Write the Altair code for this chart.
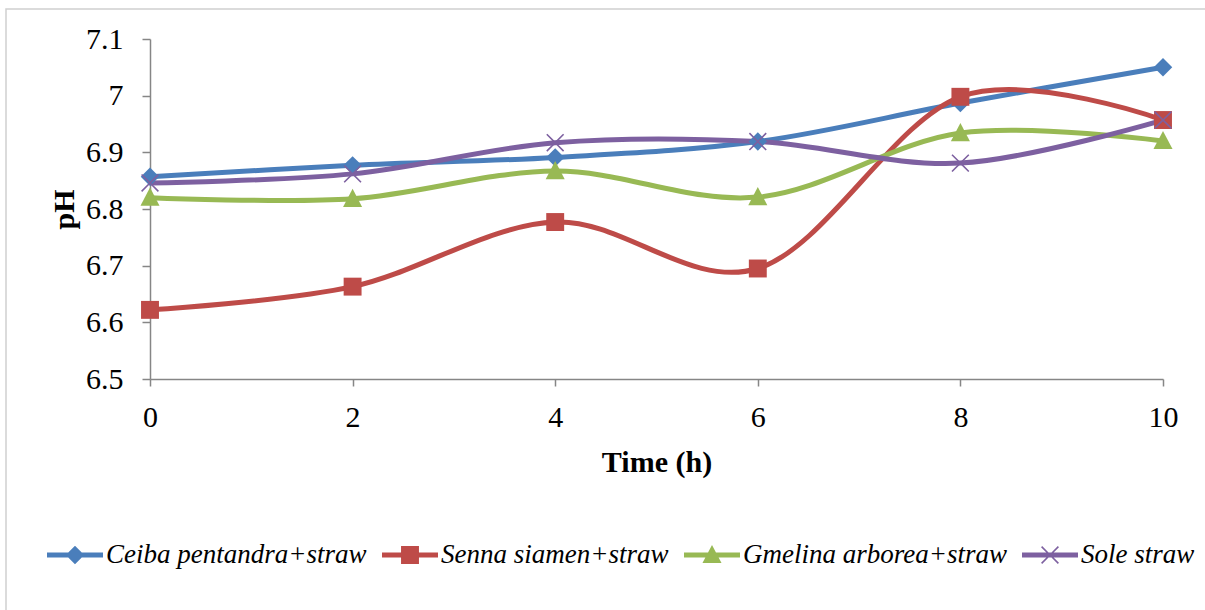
import altair as alt
import pandas as pd

# ---- data ----
times = [0, 2, 4, 6, 8, 10]
series_names = ["Ceiba pentandra+straw", "Senna siamen+straw",
                "Gmelina arborea+straw", "Sole straw"]
ceiba = [6.857, 6.877, 6.891, 6.919, 6.987, 7.050]
senna = [6.622, 6.663, 6.777, 6.695, 6.998, 6.957]
gmelina = [6.820, 6.818, 6.867, 6.821, 6.934, 6.920]
sole = [6.846, 6.862, 6.917, 6.919, 6.881, 6.957]
colors = ["#4A7EBB", "#BE4B48", "#98B954", "#7D60A0"]
y_ticks = [6.5, 6.6, 6.7, 6.8, 6.9, 7.0, 7.1]
x_ticks = [0, 2, 4, 6, 8, 10]

# marker glyphs (unit box; drawn with a large symbol size so the legend line can be long)
markers = [
    "M0,-0.33L0.33,0L0,0.33L-0.33,0Z",
    "M-0.32,-0.32L0.32,-0.32L0.32,0.32L-0.32,0.32Z",
    "M0,-0.36L0.34,0.29L-0.34,0.29Z",
    "M-0.32,-0.28L-0.28,-0.32L0,-0.04L0.28,-0.32L0.32,-0.28L0.04,0L0.32,0.28L0.28,0.32L0,0.04L-0.28,0.32L-0.32,0.28L-0.04,0Z",
]
legend_bar = "M-1,-0.085L1,-0.085L1,0.085L-1,0.085Z"
legend_symbols = [legend_bar + m for m in markers]

rows = []
for name, vals in zip(series_names, [ceiba, senna, gmelina, sole]):
    for t, v in zip(times, vals):
        rows.append({"time": t, "pH": v, "series": name,
                     "order": series_names.index(name)})
df = pd.DataFrame(rows)

FONT = "Liberation Serif"
SYM = 3136  # symbol size -> 56 px wide legend line

color_scale = alt.Scale(domain=series_names, range=colors)

x_enc = alt.X("time:Q",
              scale=alt.Scale(domain=[0, 10], nice=False),
              axis=alt.Axis(values=x_ticks, format="~g", title="Time (h)", grid=False,
                            labelFlush=False,
                            labelFont=FONT, labelFontSize=30, labelColor="#000",
                            labelPadding=16, tickSize=7, tickColor="#868686",
                            domainColor="#868686", domainWidth=1.5, tickWidth=1.5,
                            titleFont=FONT, titleFontSize=30, titleFontWeight="bold",
                            titleColor="#000", titlePadding=15))
y_enc = alt.Y("pH:Q",
              scale=alt.Scale(domain=[6.5, 7.1], nice=False, zero=False),
              axis=alt.Axis(values=y_ticks, format="~g", title="pH", grid=False,
                            labelFlush=False,
                            labelFont=FONT, labelFontSize=30, labelColor="#000",
                            labelPadding=19, tickSize=8, tickColor="#868686",
                            domainColor="#868686", domainWidth=1.5, tickWidth=1.5,
                            titleFont=FONT, titleFontSize=30, titleFontWeight="bold",
                            titleColor="#000", titlePadding=6))

legend_def = alt.Legend(orient="none", legendX=-103, legendY=488,
                        direction="horizontal", columns=4, title=None,
                        labelFont=FONT, labelFontSize=27,
                        labelFontStyle="italic", labelColor="#000",
                        labelOffset=3, columnPadding=15,
                        symbolSize=SYM, symbolStrokeWidth=0,
                        symbolOpacity=1, labelLimit=400)

base = alt.Chart(df)

legend_layer = base.transform_filter("false").mark_point(
    filled=True, size=SYM, opacity=1).encode(
    x=x_enc, y=y_enc,
    color=alt.Color("series:N", scale=color_scale, legend=legend_def),
    shape=alt.Shape("series:N", scale=alt.Scale(domain=series_names, range=legend_symbols),
                    legend=legend_def),
)

lines = base.mark_line(interpolate="cardinal", strokeWidth=5).encode(
    x="time:Q", y="pH:Q",
    color=alt.Color("series:N", scale=color_scale, legend=None),
    order="order:Q",
)

point_layers = []
for name, path in zip(series_names, markers):
    point_layers.append(
        base.transform_filter(alt.datum.series == name)
        .mark_point(filled=True, size=SYM, opacity=1, shape=path, strokeWidth=0)
        .encode(x="time:Q", y="pH:Q",
                color=alt.Color("series:N", scale=color_scale, legend=None))
    )

frame = alt.Chart(pd.DataFrame({"a": [0]})).mark_rect(
    fill=None, stroke="#D0D0D0", strokeWidth=1.5, clip=False).encode(
    x=alt.value(-144), x2=alt.value(1070), y=alt.value(-30), y2=alt.value(590))

chart = alt.layer(legend_layer, frame, lines, *point_layers).resolve_legend(
    color="independent", shape="independent"
).properties(
    width=1013, height=340,
    autosize=alt.AutoSizeParams(type="none"),
    padding={"left": 150, "top": 39, "right": 42, "bottom": 231},
    background="white",
).configure_view(stroke=None)

chart.save("out.html", embed_options={"renderer": "svg", "actions": False})
